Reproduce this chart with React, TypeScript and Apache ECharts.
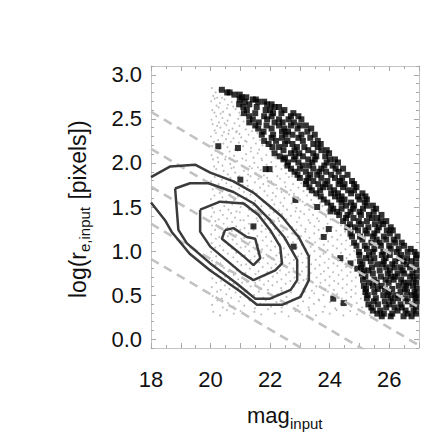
import React, { useEffect, useRef } from 'react';
import * as echarts from 'echarts';

// ---- axis values ----
const xTickLabels = [18, 20, 22, 24, 26];
const xMajorTicks = [18, 19, 20, 21, 22, 23, 24, 25, 26, 27];
const xMinorTicks = [18.5, 19.5, 20.5, 21.5, 22.5, 23.5, 24.5, 25.5, 26.5];
const yTickLabels = [0, 0.5, 1.0, 1.5, 2.0, 2.5, 3.0];
const yMinorTicks = [
  -0.1, 0.1, 0.2, 0.3, 0.4, 0.6, 0.7, 0.8, 0.9, 1.1, 1.2, 1.3, 1.4, 1.6, 1.7, 1.8, 1.9,
  2.1, 2.2, 2.3, 2.4, 2.6, 2.7, 2.8, 2.9, 3.1,
];

// ---- dashed lines of constant surface brightness: value at mag 18 and at mag 27 ----
const dashStarts = [2.58, 2.16, 1.73, 1.31, 0.91];
const dashEnds = [0.78, 0.36, -0.07, -0.49, -0.89];

// ---- contours [mag, log r] ----
const contour1 = [
  [18.0, 1.84], [18.65, 1.96], [19.48, 1.98], [19.99, 1.89], [20.77, 1.79], [21.45, 1.66],
  [21.95, 1.52], [22.4, 1.39], [22.96, 1.16], [23.3, 0.94], [23.3, 0.67], [23.02, 0.48],
  [22.4, 0.39], [21.56, 0.39], [21.0, 0.54], [19.99, 0.78], [19.3, 0.97], [18.69, 1.22],
  [18.47, 1.35], [18.0, 1.55],
];
const contour2 = [
  [18.81, 1.71], [19.31, 1.77], [19.93, 1.77], [20.77, 1.67], [21.45, 1.54], [22.0, 1.35],
  [22.47, 1.16], [22.91, 0.9], [22.91, 0.67], [22.69, 0.56], [22.0, 0.46], [21.5, 0.46],
  [20.89, 0.63], [19.99, 0.86], [19.2, 1.09], [18.92, 1.24], [18.81, 1.71],
];
const contour3 = [
  [19.65, 1.47], [20.32, 1.56], [21.11, 1.54], [21.61, 1.41], [22.0, 1.24], [22.34, 1.05],
  [22.4, 0.86], [22.17, 0.78], [21.44, 0.67], [21.05, 0.75], [19.99, 1.05], [19.65, 1.22],
  [19.65, 1.47],
];
const contour4 = [
  [20.49, 1.24], [20.77, 1.26], [21.22, 1.16], [21.5, 1.14], [21.67, 0.92], [21.44, 0.84],
  [21.11, 0.94], [20.38, 1.14], [20.49, 1.24],
];

// ---- black squares: rows of [log r, mags] ----
const blackRows: [number, number[]][] = [
  [2.83, [20.38]],
  [2.8, [20.56, 20.64]],
  [2.775, [20.8, 20.98]],
  [2.745, [21.05, 21.2]],
  [2.72, [20.98, 21.42, 21.52]],
  [2.695, [21.15, 21.6, 21.8]],
  [2.665, [20.96, 21.3, 21.9, 22.05]],
  [2.635, [21.1, 21.55, 22.15, 22.3]],
  [2.6, [21.22, 21.85, 22.0, 22.48]],
  [2.565, [21.12, 21.5, 22.1, 22.38, 22.78]],
  [2.53, [21.3, 21.8, 22.05, 22.7, 22.95]],
  [2.495, [21.42, 21.9, 22.3, 22.62, 23.05]],
  [2.46, [21.3, 21.62, 22.15, 22.42, 22.8]],
  [2.425, [21.5, 21.88, 22.3, 22.7, 23.0, 23.2]],
  [2.39, [21.6, 22.05, 22.48, 22.92, 23.38]],
  [2.355, [21.78, 22.4, 22.6, 23.25]],
  [2.32, [21.72, 22.1, 22.52, 22.75, 23.05, 23.5]],
  [2.285, [22.05, 22.4, 22.95, 23.35]],
  [2.25, [21.8, 22.2, 22.58, 23.1, 23.6]],
  [2.215, [21.95, 22.5, 22.75, 23.45, 23.7]],
  [2.18, [22.08, 22.3, 22.9, 23.15, 23.6]],
  [2.145, [22.45, 22.82, 23.28, 23.72, 23.9]],
  [2.11, [22.15, 22.7, 22.98, 23.45, 23.98]],
  [2.075, [22.32, 22.85, 23.1, 23.55, 23.85]],
  [2.04, [22.45, 22.8, 23.28, 23.5, 24.0, 24.18]],
  [2.005, [22.6, 22.95, 23.42, 23.9, 24.28]],
  [1.97, [22.58, 23.1, 23.3, 23.82, 24.1]],
  [1.935, [22.7, 23.0, 23.45, 23.72, 24.2, 24.45]],
  [1.9, [22.82, 23.2, 23.65, 23.88, 24.3]],
  [1.865, [22.92, 23.35, 23.58, 24.05, 24.6]],
  [1.83, [23.0, 23.28, 23.72, 24.18, 24.42]],
  [1.795, [23.22, 23.45, 23.92, 24.35, 24.75]],
  [1.76, [23.2, 23.62, 23.85, 24.3, 24.5, 24.82]],
  [1.725, [23.32, 23.78, 24.0, 24.45, 24.9]],
  [1.69, [23.4, 23.68, 24.15, 24.62, 24.82]],
  [1.655, [23.55, 24.05, 24.28, 24.72, 25.1]],
  [1.62, [23.7, 24.18, 24.4, 24.95, 25.2]],
  [1.585, [23.8, 24.32, 24.5, 25.0, 25.25]],
  [1.55, [23.92, 24.4, 24.72, 25.18]],
  [1.515, [24.05, 24.55, 24.82, 25.25, 25.45]],
  [1.48, [24.12, 24.4, 24.78, 25.12, 25.56]],
  [1.445, [24.25, 24.7, 25.0, 25.48]],
  [1.41, [24.32, 24.6, 25.05, 25.32, 25.74]],
  [1.375, [24.55, 24.8, 25.42, 25.6]],
  [1.34, [24.45, 24.98, 25.25, 25.72, 25.9]],
  [1.305, [24.68, 25.05, 25.52, 25.8]],
  [1.27, [24.6, 24.85, 25.3, 25.65, 26.05]],
  [1.235, [24.95, 25.2, 25.6, 25.92, 26.12]],
  [1.2, [24.7, 25.25, 25.5, 26.02]],
  [1.165, [24.75, 25.02, 25.45, 25.82, 26.28]],
  [1.13, [25.1, 25.58, 25.9, 26.15]],
  [1.095, [24.82, 25.4, 25.68, 26.2, 26.42]],
  [1.06, [24.9, 25.18, 25.72, 26.0, 26.5]],
  [1.025, [25.25, 25.5, 26.05, 26.32, 26.72]],
  [0.99, [24.98, 25.45, 25.8, 26.25, 26.62, 26.85]],
  [0.955, [25.0, 25.32, 25.75, 26.02, 26.4, 26.92]],
  [0.92, [25.22, 25.5, 25.88, 26.35, 26.6, 26.9]],
  [0.885, [25.02, 25.38, 25.82, 26.2, 26.48, 26.75]],
  [0.85, [25.1, 25.6, 25.78, 26.1, 26.58, 26.9]],
  [0.815, [25.05, 25.42, 25.9, 26.18, 26.38, 26.7]],
  [0.78, [25.15, 25.3, 25.68, 26.02, 26.45, 26.92]],
  [0.745, [25.08, 25.45, 25.95, 26.28, 26.5, 26.78]],
  [0.71, [25.2, 25.72, 26.05, 26.2, 26.7, 26.92]],
  [0.675, [25.12, 25.5, 25.88, 26.15, 26.4, 26.82]],
  [0.64, [25.32, 25.58, 25.98, 26.48, 26.65, 26.9]],
  [0.605, [25.15, 25.45, 25.75, 26.32, 26.58, 26.8]],
  [0.57, [25.22, 25.62, 25.85, 26.1, 26.52, 26.92]],
  [0.535, [25.2, 25.5, 26.0, 26.38, 26.6, 26.85]],
  [0.5, [25.28, 25.8, 25.95, 26.2, 26.75, 26.92]],
  [0.465, [25.25, 25.55, 26.05, 26.3, 26.55, 26.88]],
  [0.43, [25.48, 25.85, 26.12, 26.62, 26.92]],
  [0.395, [25.3, 25.62, 26.0, 26.38, 26.78]],
  [0.36, [25.4, 25.9, 26.18, 26.42, 26.9]],
  [0.325, [25.45, 25.7, 26.28, 26.55, 26.82]],
  [0.29, [25.6, 25.82, 26.1, 26.62, 26.9]],
  [0.26, [25.75, 26.05, 26.48, 26.75]],
];
const blackIsolated = [
  [20.26, 2.19], [20.92, 2.17], [21.85, 1.93], [21.98, 1.93], [21.0, 1.81], [22.85, 1.58],
  [21.44, 1.28], [22.79, 1.05], [23.58, 1.5], [24.03, 1.45], [23.8, 1.16], [23.97, 1.25],
  [24.36, 0.92], [24.7, 0.86], [24.93, 0.8], [24.12, 0.46], [24.47, 0.41], [22.5, 2.06],
];

// ---- grey dots [mag, log r] ----
const greyDots = [
  [20.04, 2.85], [20.17, 2.8], [20.09, 2.76], [20.29, 2.83], [20.22, 2.74],
  [20.02, 2.7], [20.31, 2.68], [20.14, 2.73], [20.47, 2.72], [20.58, 2.66], [20.2, 2.65], [20.71, 2.69], [20.38, 2.74],
  [20.06, 2.6], [20.27, 2.63], [20.13, 2.57], [20.42, 2.58], [20.55, 2.62], [20.63, 2.55], [20.84, 2.61], [20.97, 2.57], [20.34, 2.56], [20.76, 2.64],
  [20.03, 2.49], [20.19, 2.53], [20.28, 2.46], [20.4, 2.51], [20.57, 2.48], [20.66, 2.54], [20.81, 2.45], [20.93, 2.5], [21.11, 2.47], [21.22, 2.53], [20.47, 2.45], [21.0, 2.54],
  [20.07, 2.44], [20.14, 2.37], [20.33, 2.4], [20.45, 2.35], [20.53, 2.43], [20.74, 2.39], [20.88, 2.36], [20.97, 2.42], [21.18, 2.38], [21.27, 2.45], [21.39, 2.36], [21.46, 2.42], [20.62, 2.37], [20.22, 2.42],
  [20.01, 2.3], [20.18, 2.34], [20.25, 2.26], [20.39, 2.31], [20.52, 2.27], [20.6, 2.33], [20.77, 2.28], [20.86, 2.35], [21.03, 2.29], [21.16, 2.25], [21.28, 2.32], [21.44, 2.28], [21.57, 2.34], [21.66, 2.26], [21.78, 2.31], [20.97, 2.33],
  [20.05, 2.19], [20.11, 2.24], [20.29, 2.16], [20.43, 2.22], [20.57, 2.18], [20.68, 2.24], [20.82, 2.15], [21.09, 2.19], [21.21, 2.24], [21.36, 2.17], [21.52, 2.22], [21.63, 2.15], [21.74, 2.2], [21.93, 2.23], [22.01, 2.16], [20.95, 2.23],
  [20.03, 2.09], [20.16, 2.14], [20.24, 2.06], [20.37, 2.11], [20.51, 2.07], [20.64, 2.13], [20.79, 2.08], [20.91, 2.14], [21.07, 2.05], [21.19, 2.1], [21.35, 2.13], [21.44, 2.06], [21.58, 2.11], [21.71, 2.05], [21.87, 2.09], [22.05, 2.13], [22.17, 2.06], [22.31, 2.1],
  [20.08, 2.04], [20.12, 1.96], [20.26, 2.01], [20.4, 1.97], [20.49, 2.04], [20.66, 1.99], [20.78, 1.95], [20.89, 2.02], [21.04, 1.97], [21.19, 2.03], [21.31, 1.96], [21.47, 2.0], [21.59, 1.95], [21.73, 2.03], [21.88, 1.98], [22.04, 2.01], [22.19, 1.96], [22.36, 2.03], [22.47, 1.97],
  [20.04, 1.88], [20.19, 1.93], [20.3, 1.86], [20.44, 1.91], [20.58, 1.87], [20.7, 1.94], [20.83, 1.89], [20.97, 1.85], [21.12, 1.91], [21.26, 1.87], [21.39, 1.94], [21.53, 1.88], [21.68, 1.92], [21.79, 1.86], [22.08, 1.9], [22.24, 1.85], [22.38, 1.93], [22.53, 1.88], [22.67, 1.91], [22.74, 1.85],
  [20.02, 1.79], [20.14, 1.84], [20.27, 1.76], [20.38, 1.81], [20.53, 1.77], [20.67, 1.83], [20.8, 1.78], [20.93, 1.84], [21.08, 1.75], [21.23, 1.8], [21.34, 1.85], [21.49, 1.78], [21.61, 1.82], [21.77, 1.76], [21.9, 1.83], [22.04, 1.79], [22.2, 1.75], [22.33, 1.82], [22.49, 1.78], [22.63, 1.84], [22.77, 1.76], [22.92, 1.81], [23.04, 1.77],
  [20.07, 1.7], [20.15, 1.74], [20.31, 1.66], [20.42, 1.72], [20.57, 1.68], [20.7, 1.73], [20.84, 1.65], [20.96, 1.71], [21.12, 1.67], [21.25, 1.74], [21.41, 1.69], [21.55, 1.65], [21.66, 1.72], [21.81, 1.68], [21.95, 1.74], [22.09, 1.66], [22.23, 1.71], [22.38, 1.67], [22.52, 1.73], [22.69, 1.69], [22.8, 1.65], [22.95, 1.72], [23.12, 1.68], [23.27, 1.74], [23.4, 1.66],
  [20.01, 1.59], [20.13, 1.63], [20.26, 1.56], [20.4, 1.61], [20.53, 1.57], [20.65, 1.64], [20.79, 1.58], [20.92, 1.62], [21.07, 1.55], [21.21, 1.6], [21.34, 1.64], [21.5, 1.57], [21.63, 1.61], [21.77, 1.56], [21.91, 1.63], [22.06, 1.58], [22.19, 1.62], [22.35, 1.55], [22.48, 1.6], [22.64, 1.64], [22.79, 1.57], [22.93, 1.61], [23.09, 1.56], [23.24, 1.63], [23.38, 1.58], [23.55, 1.62], [23.68, 1.55],
  [20.06, 1.49], [20.17, 1.54], [20.32, 1.46], [20.46, 1.51], [20.6, 1.47], [20.73, 1.53], [20.87, 1.45], [21.01, 1.5], [21.16, 1.54], [21.29, 1.47], [21.43, 1.52], [21.58, 1.46], [21.71, 1.51], [21.86, 1.55], [22.0, 1.48], [22.14, 1.53], [22.29, 1.46], [22.44, 1.51], [22.57, 1.47], [22.72, 1.54], [22.88, 1.49], [23.02, 1.45], [23.17, 1.52], [23.31, 1.47], [23.46, 1.53], [23.62, 1.48], [23.76, 1.51], [23.9, 1.46], [24.02, 1.53],
  [20.03, 1.39], [20.12, 1.44], [20.27, 1.36], [20.41, 1.41], [20.55, 1.37], [20.69, 1.43], [20.82, 1.38], [20.98, 1.44], [21.11, 1.35], [21.26, 1.4], [21.4, 1.45], [21.55, 1.37], [21.69, 1.42], [21.82, 1.36], [21.97, 1.41], [22.12, 1.44], [22.27, 1.37], [22.4, 1.42], [22.55, 1.36], [22.7, 1.4], [22.85, 1.45], [22.98, 1.38], [23.14, 1.42], [23.29, 1.35], [23.44, 1.41], [23.58, 1.37], [23.73, 1.44], [23.88, 1.39], [24.03, 1.36], [24.16, 1.43], [24.27, 1.38],
  [20.05, 1.29], [20.16, 1.34], [20.3, 1.26], [20.44, 1.31], [20.57, 1.27], [20.72, 1.33], [20.86, 1.28], [21.0, 1.35], [21.14, 1.26], [21.29, 1.31], [21.43, 1.27], [21.58, 1.34], [21.72, 1.29], [21.85, 1.25], [22.01, 1.32], [22.15, 1.28], [22.3, 1.34], [22.46, 1.26], [22.59, 1.31], [22.74, 1.27], [22.9, 1.33], [23.04, 1.29], [23.19, 1.25], [23.34, 1.32], [23.49, 1.28], [23.64, 1.34], [23.79, 1.26], [23.93, 1.31], [24.09, 1.27], [24.24, 1.33], [24.38, 1.29], [24.5, 1.25],
  [20.02, 1.19], [20.15, 1.24], [20.29, 1.16], [20.42, 1.21], [20.58, 1.17], [20.71, 1.23], [20.85, 1.18], [21.0, 1.24], [21.13, 1.15], [21.28, 1.2], [21.44, 1.24], [21.57, 1.17], [21.71, 1.22], [21.86, 1.16], [22.0, 1.21], [22.16, 1.25], [22.3, 1.18], [22.43, 1.23], [22.59, 1.16], [22.74, 1.2], [22.88, 1.24], [23.03, 1.17], [23.18, 1.22], [23.32, 1.15], [23.48, 1.2], [23.63, 1.24], [23.77, 1.17], [23.92, 1.21], [24.08, 1.16], [24.22, 1.23], [24.37, 1.18], [24.52, 1.22], [24.63, 1.16],
  [20.04, 1.09], [20.18, 1.14], [20.31, 1.06], [20.46, 1.11], [20.6, 1.07], [20.74, 1.13], [20.88, 1.08], [21.03, 1.14], [21.17, 1.05], [21.31, 1.1], [21.46, 1.14], [21.6, 1.07], [21.75, 1.12], [21.89, 1.06], [22.04, 1.11], [22.19, 1.15], [22.33, 1.08], [22.48, 1.13], [22.63, 1.06], [22.77, 1.1], [22.92, 1.14], [23.07, 1.07], [23.21, 1.12], [23.36, 1.05], [23.51, 1.1], [23.66, 1.14], [23.8, 1.07], [23.95, 1.11], [24.11, 1.06], [24.26, 1.13], [24.4, 1.08], [24.55, 1.12], [24.69, 1.06], [24.8, 1.1],
  [20.02, 0.99], [20.16, 1.04], [20.3, 0.96], [20.43, 1.01], [20.58, 0.97], [20.72, 1.03], [20.86, 0.98], [21.01, 1.04], [21.15, 0.95], [21.3, 1.0], [21.44, 1.04], [21.59, 0.97], [21.73, 1.02], [21.88, 0.96], [22.02, 1.01], [22.17, 1.05], [22.31, 0.98], [22.46, 1.03], [22.61, 0.96], [22.76, 1.0], [22.9, 1.04], [23.05, 0.97], [23.2, 1.02], [23.34, 0.95], [23.49, 1.0], [23.64, 1.04], [23.79, 0.97], [23.93, 1.01], [24.09, 0.96], [24.24, 1.03], [24.38, 0.98], [24.53, 1.02], [24.68, 0.96], [24.82, 1.0], [24.93, 1.04],
  [20.05, 0.89], [20.19, 0.94], [20.33, 0.86], [20.47, 0.91], [20.62, 0.87], [20.76, 0.93], [20.9, 0.88], [21.05, 0.94], [21.19, 0.85], [21.34, 0.9], [21.48, 0.94], [21.63, 0.87], [21.77, 0.92], [21.92, 0.86], [22.06, 0.91], [22.21, 0.95], [22.35, 0.88], [22.5, 0.93], [22.65, 0.86], [22.8, 0.9], [22.94, 0.94], [23.09, 0.87], [23.24, 0.92], [23.38, 0.85], [23.53, 0.9], [23.68, 0.94], [23.83, 0.87], [23.97, 0.91], [24.13, 0.86], [24.28, 0.93], [24.42, 0.88], [24.57, 0.92], [24.72, 0.86], [24.86, 0.9], [24.99, 0.94],
  [20.03, 0.79], [20.17, 0.84], [20.31, 0.76], [20.45, 0.81], [20.6, 0.77], [20.74, 0.83], [20.88, 0.78], [21.03, 0.84], [21.17, 0.75], [21.32, 0.8], [21.46, 0.84], [21.61, 0.77], [21.75, 0.82], [21.9, 0.76], [22.04, 0.81], [22.19, 0.85], [22.33, 0.78], [22.48, 0.83], [22.63, 0.76], [22.78, 0.8], [22.92, 0.84], [23.07, 0.77], [23.22, 0.82], [23.36, 0.75], [23.51, 0.8], [23.66, 0.84], [23.81, 0.77], [23.95, 0.81], [24.11, 0.76], [24.26, 0.83], [24.4, 0.78], [24.55, 0.82], [24.7, 0.76], [24.84, 0.8], [24.98, 0.84],
  [20.06, 0.69], [20.2, 0.74], [20.35, 0.66], [20.49, 0.71], [20.64, 0.67], [20.78, 0.73], [20.93, 0.68], [21.07, 0.74], [21.22, 0.65], [21.36, 0.7], [21.51, 0.74], [21.65, 0.67], [21.8, 0.72], [21.94, 0.66], [22.09, 0.71], [22.24, 0.75], [22.38, 0.68], [22.53, 0.73], [22.68, 0.66], [22.82, 0.7], [22.97, 0.74], [23.12, 0.67], [23.26, 0.72], [23.41, 0.65], [23.56, 0.7], [23.7, 0.74], [23.85, 0.67], [24.0, 0.71], [24.15, 0.66], [24.3, 0.73], [24.44, 0.68], [24.59, 0.72], [24.74, 0.66], [24.88, 0.7], [25.02, 0.74],
  [20.04, 0.59], [20.19, 0.64], [20.34, 0.56], [20.48, 0.61], [20.63, 0.57], [20.77, 0.63], [20.92, 0.58], [21.06, 0.64], [21.21, 0.55], [21.35, 0.6], [21.5, 0.64], [21.64, 0.57], [21.79, 0.62], [21.93, 0.56], [22.08, 0.61], [22.23, 0.65], [22.37, 0.58], [22.52, 0.63], [22.67, 0.56], [22.81, 0.6], [22.96, 0.64], [23.11, 0.57], [23.25, 0.62], [23.4, 0.55], [23.55, 0.6], [23.69, 0.64], [23.84, 0.57], [23.99, 0.61], [24.14, 0.56], [24.29, 0.63], [24.43, 0.58], [24.58, 0.62], [24.73, 0.56], [24.87, 0.6], [25.05, 0.64],
  [20.07, 0.49], [20.22, 0.54], [20.38, 0.46], [20.53, 0.51], [20.69, 0.47], [20.84, 0.53], [21.0, 0.48], [21.15, 0.54], [21.31, 0.45], [21.46, 0.5], [21.62, 0.54], [21.77, 0.47], [21.93, 0.52], [22.08, 0.46], [22.24, 0.51], [22.39, 0.55], [22.55, 0.48], [22.7, 0.53], [22.86, 0.46], [23.01, 0.5], [23.17, 0.54], [23.32, 0.47], [23.48, 0.52], [23.63, 0.45], [23.79, 0.5], [23.94, 0.54], [24.1, 0.47], [24.25, 0.51], [24.41, 0.46], [24.56, 0.53], [24.72, 0.48], [24.87, 0.52], [25.05, 0.46], [25.15, 0.51],
  [20.05, 0.39], [20.23, 0.44], [20.41, 0.36], [20.59, 0.41], [20.77, 0.37], [20.95, 0.43], [21.13, 0.38], [21.31, 0.44], [21.49, 0.35], [21.67, 0.4], [21.85, 0.44], [22.03, 0.37], [22.21, 0.42], [22.39, 0.36], [22.57, 0.41], [22.75, 0.45], [22.93, 0.38], [23.11, 0.43], [23.29, 0.36], [23.47, 0.4], [23.65, 0.44], [23.83, 0.37], [24.01, 0.42], [24.19, 0.35], [24.37, 0.4], [24.55, 0.44], [24.73, 0.37], [24.91, 0.41], [25.09, 0.36], [25.25, 0.42],
  [20.09, 0.31], [20.32, 0.27], [20.55, 0.33], [20.78, 0.29], [21.01, 0.32], [21.24, 0.26], [21.47, 0.31], [21.7, 0.28], [21.93, 0.34], [22.16, 0.29], [22.39, 0.31], [22.62, 0.26], [22.85, 0.32], [23.08, 0.28], [23.31, 0.33], [23.54, 0.27], [23.77, 0.31], [24.0, 0.29], [24.23, 0.33], [24.46, 0.27], [24.69, 0.32], [24.92, 0.28], [25.15, 0.31], [25.35, 0.27],
];

const FONT = "'Liberation Sans', Arial, Helvetica, sans-serif";
const FRAME = '#c4c4c4';
const TICK = '#a8a8a8';
const X_MIN = 18;
const X_MAX = 27;
const Y_MIN = -0.1;
const Y_MAX = 3.1;

function tickAxis(kind: 'x' | 'y', position: string, ticks: number[], len: number, labels: number[] | null, showLine: boolean) {
  const isX = kind === 'x';
  return {
    type: 'value',
    gridIndex: 0,
    position,
    min: isX ? X_MIN : Y_MIN,
    max: isX ? X_MAX : Y_MAX,
    axisLine: { show: showLine, onZero: false, lineStyle: { color: FRAME, width: 1 } },
    axisTick: { show: true, inside: true, length: len, customValues: ticks, lineStyle: { color: TICK, width: 1 } },
    axisLabel: labels
      ? {
          show: true,
          customValues: labels,
          fontSize: 22,
          fontFamily: FONT,
          color: '#111',
          margin: isX ? 20 : 9,
          formatter: (v: number) => (isX ? String(Math.round(v)) : v.toFixed(1)),
        }
      : { show: false },
    splitLine: { show: false },
    minorTick: { show: false },
  };
}

export default function App() {
  const ref = useRef<HTMLDivElement>(null);
  useEffect(() => {
    if (!ref.current) return;
    const chart = echarts.init(ref.current, null, { renderer: 'svg' });
    const blackPts = blackRows.flatMap(([y, xs]) => xs.map((x) => [x, y])).concat(blackIsolated);
    const dashSeries = dashStarts.map((a, i) => ({
      type: 'line',
      data: [[X_MIN, a], [X_MAX, dashEnds[i]]],
      showSymbol: false,
      silent: true,
      clip: true,
      lineStyle: { color: '#c2c2c2', width: 2.6, type: [9, 6] },
      z: 3,
    }));
    const contourSeries = [contour1, contour2, contour3, contour4].map((c) => ({
      type: 'line',
      data: c,
      showSymbol: false,
      silent: true,
      clip: true,
      lineStyle: { color: '#3a3a3a', width: 2.5 },
      z: 4,
    }));
    chart.setOption({
      animation: false,
      backgroundColor: '#fff',
      grid: { left: 151, top: 66, width: 268, height: 282, containLabel: false, outerBoundsMode: 'none' },
      xAxis: [
        tickAxis('x', 'bottom', xMajorTicks, 5, xTickLabels, true),
        tickAxis('x', 'bottom', xMinorTicks, 3, null, false),
        tickAxis('x', 'top', xMajorTicks, 5, null, true),
        tickAxis('x', 'top', xMinorTicks, 3, null, false),
      ],
      yAxis: [
        tickAxis('y', 'left', yTickLabels, 5, yTickLabels, true),
        tickAxis('y', 'left', yMinorTicks, 3, null, false),
        tickAxis('y', 'right', yTickLabels, 5, null, true),
        tickAxis('y', 'right', yMinorTicks, 3, null, false),
      ],
      series: [
        {
          type: 'scatter',
          data: greyDots,
          symbol: 'circle',
          symbolSize: 1.9,
          itemStyle: { color: '#ababab' },
          silent: true,
          z: 1,
        },
        {
          type: 'scatter',
          data: blackPts,
          symbol: 'rect',
          symbolSize: 6,
          itemStyle: { color: '#000' },
          silent: true,
          z: 2,
        },
        ...dashSeries,
        ...contourSeries,
      ],
      graphic: [
        {
          type: 'text',
          x: 247,
          y: 415,
          style: { text: 'mag', fontSize: 22, fontFamily: FONT, fill: '#111', align: 'left', verticalAlign: 'middle' },
        },
        {
          type: 'text',
          x: 290,
          y: 423,
          style: { text: 'input', fontSize: 15, fontFamily: FONT, fill: '#111', align: 'left', verticalAlign: 'middle' },
        },
        {
          type: 'group',
          x: 78,
          y: 298,
          rotation: Math.PI / 2,
          children: [
            { type: 'text', x: 0, y: 0, style: { text: 'log(r', fontSize: 23, fontFamily: FONT, fill: '#111', align: 'left', verticalAlign: 'middle' } },
            { type: 'text', x: 46, y: 6, style: { text: 'e,input', fontSize: 15, fontFamily: FONT, fill: '#111', align: 'left', verticalAlign: 'middle' } },
            { type: 'text', x: 92, y: 0, style: { text: ' [pixels])', fontSize: 23, fontFamily: FONT, fill: '#111', align: 'left', verticalAlign: 'middle' } },
          ],
        },
      ],
    });
    return () => chart.dispose();
  }, []);
  return (
    <div
      ref={ref}
      style={{ position: 'fixed', left: 0, top: 0, width: 436, height: 436, background: '#fff' }}
    />
  );
}
